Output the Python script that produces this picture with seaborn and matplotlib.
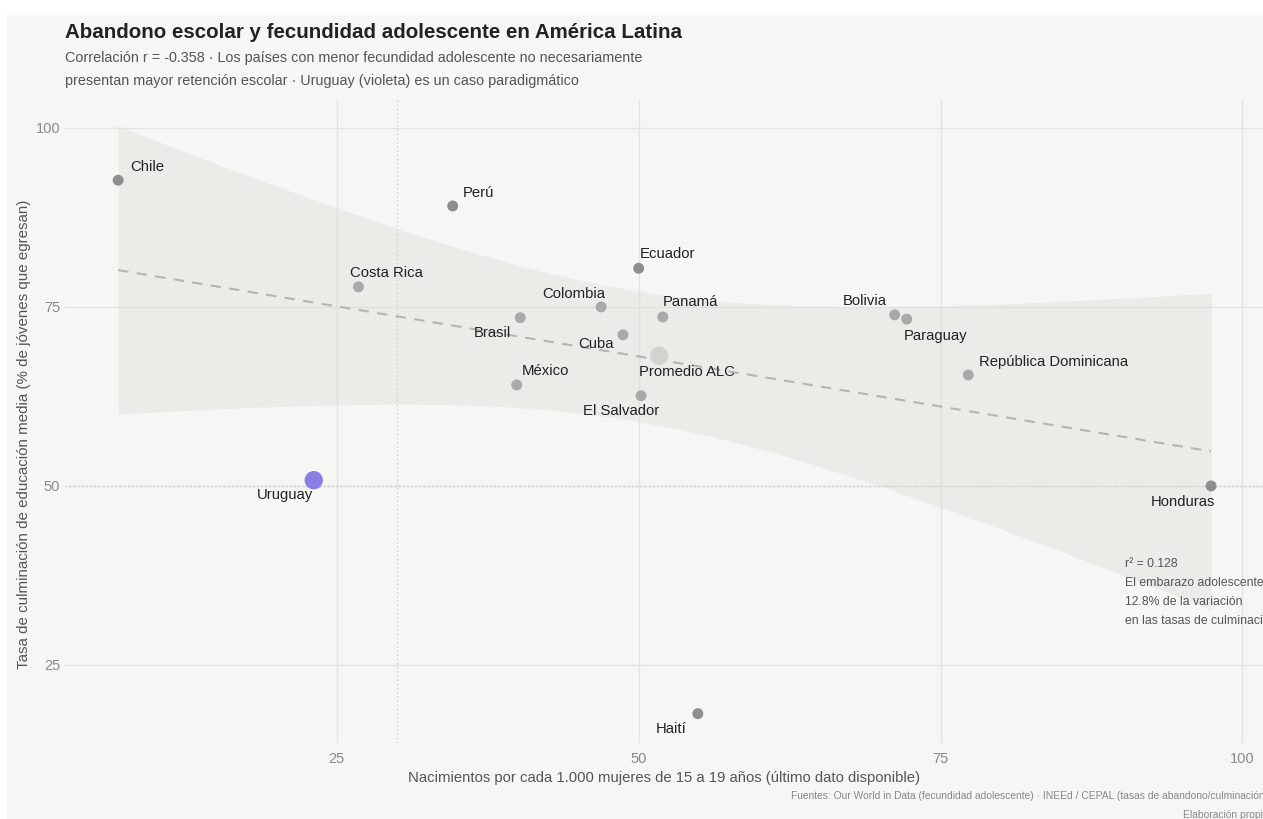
import numpy as np
import pandas as pd
import matplotlib
matplotlib.use("Agg")
import matplotlib.pyplot as plt
from matplotlib.patches import Rectangle
import seaborn as sns

# --- data -------------------------------------------------------------------
paises = ["Chile", "Perú", "Ecuador", "Costa Rica", "Colombia", "Panamá",
          "Brasil", "Cuba", "México", "El Salvador", "Bolivia", "Paraguay",
          "República Dominicana", "Uruguay", "Honduras", "Haití"]
fecundidad = [6.9, 34.6, 50.0, 26.8, 46.9, 52.0, 40.2, 48.7, 39.9, 50.2,
              71.2, 72.2, 77.3, 23.1, 97.4, 54.9]
culminacion = [92.7, 89.1, 80.4, 77.8, 75.0, 73.6, 73.5, 71.1, 64.1, 62.6,
               73.9, 73.3, 65.5, 50.8, 50.0, 18.2]

promedio_nombre = "Promedio ALC"
promedio_fecundidad = 51.7
promedio_culminacion = 68.2

x_ticks = [25, 50, 75, 100]
y_ticks = [25, 50, 75, 100]
umbral_fecundidad = 30
umbral_culminacion = 50
r2_texto = "0.128"

# --- styling ------------------------------------------------------------------
BG = "#f6f6f4"
GRID = "#e3e3e0"
oscuros = {"Chile", "Perú", "Ecuador", "Honduras", "Haití"}
grupo = []
for p in paises:
    if p == "Uruguay":
        grupo.append("uruguay")
    elif p in oscuros:
        grupo.append("oscuro")
    else:
        grupo.append("claro")
paleta = {"oscuro": "#8e8e8c", "claro": "#a9a9a7", "uruguay": "#8a7fe6",
          "promedio": "#d2d2ce"}
tamanos = {"oscuro": 62, "claro": 62, "uruguay": 175, "promedio": 175}

# label placement: (dx, dy) in pixels from the point, horizontal alignment
etiquetas = {
    "Chile": (12, 13, "left"),
    "Perú": (10, 13, "left"),
    "Ecuador": (1, 14, "left"),
    "Costa Rica": (-8, 14, "left"),
    "Colombia": (4, 13, "right"),
    "Panamá": (0, 15, "left"),
    "Brasil": (-9, -15, "right"),
    "Cuba": (-9, -9, "right"),
    "México": (5, 14, "left"),
    "El Salvador": (-20, -15, "center"),
    "Bolivia": (-8, 14, "right"),
    "Paraguay": (-3, -17, "left"),
    "República Dominicana": (11, 13, "left"),
    "Uruguay": (-1, -15, "right"),
    "Honduras": (4, -16, "right"),
    "Haití": (-11, -15, "right"),
    "Promedio ALC": (-20, -16, "left"),
}

sns.set_theme(style="white")
plt.rcParams["font.family"] = ["Liberation Sans", "DejaVu Sans"]

df = pd.DataFrame({"pais": paises, "fecundidad": fecundidad,
                   "culminacion": culminacion, "grupo": grupo})
df_prom = pd.DataFrame({"pais": [promedio_nombre],
                        "fecundidad": [promedio_fecundidad],
                        "culminacion": [promedio_culminacion],
                        "grupo": ["promedio"]})

fig = plt.figure(figsize=(12.63, 8.19), dpi=100, facecolor=BG)
ax = fig.add_axes([65 / 1263, 1 - 743 / 819, 1198 / 1263, 643 / 819])
ax.set_facecolor(BG)
ax.set_xlim(2.5, 101.7)
ax.set_ylim(14.1, 103.9)

# grid and reference lines
ax.set_xticks(x_ticks)
ax.set_yticks(y_ticks)
ax.grid(True, color=GRID, lw=1.0, zorder=0)
ax.set_axisbelow(True)
ax.axvline(umbral_fecundidad, color="#c9c9c6", lw=1.0, ls=(0, (1, 2)), zorder=1)
ax.axhline(umbral_culminacion, color="#c9c9c6", lw=1.0, ls=(0, (1, 2)), zorder=1)

# 95% confidence band of the linear fit
xv = np.asarray(fecundidad)
yv = np.asarray(culminacion)
n = len(xv)
pend, inter = np.polyfit(xv, yv, 1)
resid = yv - (inter + pend * xv)
s = np.sqrt(np.sum(resid ** 2) / (n - 2))
sxx = np.sum((xv - xv.mean()) ** 2)
t_975 = 2.1448  # Student t, 14 degrees of freedom
xg = np.linspace(xv.min(), xv.max(), 200)
yg = inter + pend * xg
hw = t_975 * s * np.sqrt(1 / n + (xg - xv.mean()) ** 2 / sxx)
ax.fill_between(xg, yg - hw, yg + hw, color="#dcdcd7", alpha=0.42, lw=0, zorder=2)

sns.regplot(data=df, x="fecundidad", y="culminacion", scatter=False, ci=None,
            ax=ax, line_kws=dict(color="#b4b4b1", lw=1.5, ls=(0, (5, 4)), zorder=3))

# points
sns.scatterplot(data=pd.concat([df_prom, df]), x="fecundidad", y="culminacion",
                hue="grupo", palette=paleta, size="grupo", sizes=tamanos,
                linewidth=0, legend=False, ax=ax, zorder=4)

# country labels
todos = list(zip(paises, fecundidad, culminacion)) + [
    (promedio_nombre, promedio_fecundidad, promedio_culminacion)]
for nombre, xx, yy in todos:
    dx, dy, ha = etiquetas[nombre]
    ax.annotate(nombre, (xx, yy), xytext=(dx, dy), textcoords="offset pixels",
                ha=ha, va="center", fontsize=10.7, color="#222222", zorder=5)

# axes cosmetics
for sp in ax.spines.values():
    sp.set_visible(False)
ax.tick_params(axis="both", length=0, labelsize=10.5, labelcolor="#8a8a8a")
ax.tick_params(axis="x", pad=6.5)
ax.tick_params(axis="y", pad=3.5)
ax.set_xlabel("Nacimientos por cada 1.000 mujeres de 15 a 19 años (último dato disponible)",
              fontsize=10.7, color="#555555")
ax.set_ylabel("Tasa de culminación de educación media (% de jóvenes que egresan)",
              fontsize=10.9, color="#555555")
ax.xaxis.set_label_coords(0.5, -0.043)
ax.yaxis.set_label_coords(-0.028, 0.48)

# fit annotation
ax.text(90.3, 39.9,
        f"r² = {r2_texto}\nEl embarazo adolescente explica el\n12.8% de la variación\nen las tasas de culminación",
        ha="left", va="top", fontsize=8.8, color="#555555", linespacing=1.75,
        clip_on=False, zorder=6)

# titles and caption
fig.text(65 / 1263, 1 - 33 / 819,
         "Abandono escolar y fecundidad adolescente en América Latina",
         ha="left", va="center", fontsize=14.8, fontweight="bold", color="#222222")
fig.text(65 / 1263, 1 - 69.5 / 819,
         "Correlación r = -0.358 · Los países con menor fecundidad adolescente no necesariamente\n"
         "presentan mayor retención escolar · Uruguay (violeta) es un caso paradigmático",
         ha="left", va="center", fontsize=10.4, color="#555555", linespacing=1.9)
fig.text(1.004, 1 - 796 / 819,
         "Fuentes: Our World in Data (fecundidad adolescente) · INEEd / CEPAL (tasas de abandono/culminación)",
         ha="right", va="center", fontsize=7.4, color="#888888")
fig.text(1.004, 1 - 815 / 819, "Elaboración propia",
         ha="right", va="center", fontsize=7.4, color="#888888")

# white page margin on top and left
fig.patches.append(Rectangle((0, 1 - 15 / 819), 1, 15 / 819, transform=fig.transFigure,
                             facecolor="white", edgecolor="none", zorder=0))
fig.patches.append(Rectangle((0, 0), 7 / 1263, 1, transform=fig.transFigure,
                             facecolor="white", edgecolor="none", zorder=0))

fig.savefig("out.png", dpi=100, facecolor=BG)
